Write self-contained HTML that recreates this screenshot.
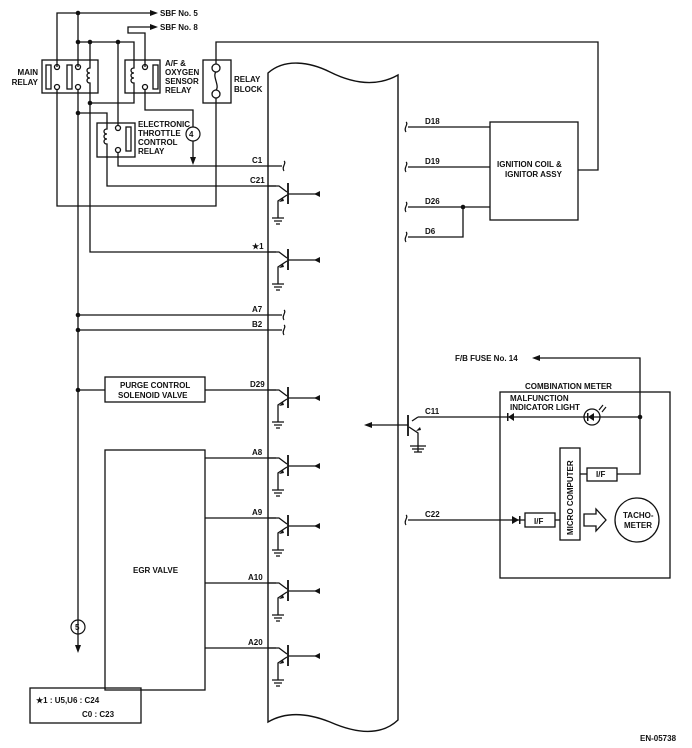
<!DOCTYPE html>
<html><head><meta charset="utf-8"><style>
html,body{margin:0;padding:0;background:#fff}
svg{display:block}
text{font-family:"Liberation Sans",sans-serif;font-weight:bold;font-size:8px;fill:#111}
</style></head><body>
<svg width="692" height="748" viewBox="0 0 692 748" xmlns="http://www.w3.org/2000/svg">
<defs>
<g id="tr">
<path d="M-14 0 H-3 L5 6" fill="none" stroke="#111" stroke-width="1.3"/>
<line x1="6" y1="-3" x2="6" y2="18" stroke="#111" stroke-width="1.8"/>
<path d="M5 9 L-4 15 V32" fill="none" stroke="#111" stroke-width="1.3"/>
<path d="M1 12 L-3 16 L2 15Z" fill="#111"/>
<line x1="6" y1="8" x2="38" y2="8" stroke="#111" stroke-width="1.3"/>
<path d="M32 5 L38 8 L32 11Z" fill="#111" transform="rotate(180 35 8)"/>
<path d="M-10 32 H2 M-8 35 H0 M-6 38 H-2" stroke="#111" stroke-width="1.2"/>
</g>
<g id="sq"><path d="M0 -5 C3 -3 -3 1 0 5" fill="none" stroke="#111" stroke-width="1.2"/></g>
</defs>
<g fill="none" stroke="#111" stroke-width="1.3">
<!-- ECM outline -->
<path d="M268 73 C285 58 310 62 330 72 C350 82 375 88 398 75 V720 C380 737 355 733 330 722 C305 712 285 712 268 722 Z" stroke-width="1.4"/>
<!-- top supplies -->
<path d="M57 67 V13 H150"/><path d="M78 13 V67"/>
<path d="M145 67 V33 H128 V27 H150"/>
<path d="M78 42 H134 V63"/><path d="M90 42 V63"/><path d="M118 42 V125"/>
<!-- main relay -->
<rect x="42" y="60" width="56" height="33"/>
<rect x="46" y="65" width="5" height="24"/><rect x="67" y="65" width="5" height="24"/>
<circle cx="57" cy="67" r="2.5"/><circle cx="78" cy="67" r="2.5"/><circle cx="57" cy="87" r="2.5"/><circle cx="78" cy="87" r="2.5"/>
<path d="M90 63 V68 c-4 0 -4 5 0 5 c-4 0 -4 5 0 5 c-4 0 -4 5 0 5 V103"/>
<!-- AF relay -->
<rect x="125" y="60" width="35" height="33"/><rect x="153" y="65" width="5" height="24"/>
<circle cx="145" cy="67" r="2.5"/><circle cx="145" cy="87" r="2.5"/>
<path d="M134 63 V68 c-4 0 -4 5 0 5 c-4 0 -4 5 0 5 c-4 0 -4 5 0 5 V103 H90"/>
<path d="M90 103 V252 H276"/>
<path d="M145 90 V110 H193 V127"/><path d="M193 141 V158"/>
<!-- relay block -->
<rect x="203" y="60" width="28" height="43"/>
<circle cx="216" cy="68" r="4"/><circle cx="216" cy="94" r="4"/>
<path d="M216 72 c-4 4 4 14 0 18"/>
<path d="M216 64 V42 H598 V170 H578"/>
<path d="M216 98 V206 H57 V90"/>
<!-- ETC relay -->
<path d="M78 90 V645"/>
<path d="M78 113 H107 V125"/>
<rect x="97" y="123" width="38" height="34"/><rect x="126" y="127" width="5" height="24"/>
<circle cx="118" cy="128" r="2.5"/><circle cx="118" cy="150" r="2.5"/>
<path d="M107 125 V129 c-4 0 -4 5 0 5 c-4 0 -4 5 0 5 c-4 0 -4 5 0 5 V186 H276"/>
<path d="M118 153 V166 H282"/>
<!-- A7 B2 -->
<path d="M78 315 H282"/><path d="M78 330 H282"/>
<!-- purge -->
<rect x="105" y="377" width="100" height="25"/><path d="M78 390 H105"/><path d="M205 390 H276"/>
<!-- EGR -->
<rect x="105" y="450" width="100" height="240"/>
<path d="M205 458 H276 M205 518 H276 M205 583 H276 M205 648 H276"/>
<!-- right side -->
<path d="M408 127 H490 M408 167 H490 M408 207 H490 M408 237 H463 V207"/>
<rect x="490" y="122" width="88" height="98"/>
<!-- combination meter -->
<path d="M640 417 V358 H540"/>
<rect x="500" y="392" width="170" height="186"/>
<path d="M418 417 H640"/>
<circle cx="592" cy="417" r="8"/>
<path d="M617 474 H640 V417"/>
<rect x="587" y="468" width="30" height="13"/>
<rect x="560" y="448" width="20" height="92"/>
<path d="M580 474 H587"/>
<path d="M408 520 H525"/><rect x="525" y="513" width="30" height="14"/><path d="M555 520 H560"/>
<path d="M584 514 H596 V509 L606 520 L596 531 V526 H584Z"/>
<circle cx="637" cy="520" r="22"/>
<!-- C11 transistor -->
<path d="M418 417 L412 421"/>
<line x1="408" y1="415" x2="408" y2="436" stroke-width="1.8"/>
<path d="M409 427 L418 433 V452"/>
<path d="M408 425 H372"/>
<path d="M410 446 H426 M412 449 H424 M414 452 H422"/>
<!-- notes box -->
<rect x="30" y="688" width="111" height="35"/>
</g>
<g fill="#111">
<circle cx="78" cy="13" r="2.3"/><circle cx="78" cy="42" r="2.3"/><circle cx="90" cy="42" r="2.3"/><circle cx="118" cy="42" r="2.3"/>
<circle cx="90" cy="103" r="2.3"/><circle cx="78" cy="113" r="2.3"/><circle cx="78" cy="315" r="2.3"/><circle cx="78" cy="330" r="2.3"/><circle cx="78" cy="390" r="2.3"/>
<circle cx="463" cy="207" r="2.3"/><circle cx="640" cy="417" r="2.3"/>
<path d="M150 10 L158 13 L150 16Z"/><path d="M150 24 L158 27 L150 30Z"/>
<path d="M190 157 L193 165 L196 157Z"/><path d="M75 645 L78 653 L81 645Z"/>
<path d="M540 355 L532 358 L540 361Z"/>
<path d="M372 422 L364 425 L372 428Z"/>
<path d="M420 427 L416 431 L421 430Z"/>
<path d="M508 413 V421 L514 417Z" transform="rotate(180 511 417)"/><rect x="507" y="413" width="1.5" height="8"/>
<path d="M588 413 V421 L594 417Z" transform="rotate(180 591 417)"/><rect x="587" y="413" width="1.5" height="8"/>
<path d="M512 516 V524 L519 520Z"/><rect x="519" y="516" width="1.5" height="8"/>
</g>
<g fill="none" stroke="#111" stroke-width="1.2">
<circle cx="193" cy="134" r="7"/><circle cx="78" cy="627" r="7"/>
<path d="M599 410 l4 -5 M602 412 l4 -5"/>
</g>
<use href="#tr" x="282" y="186"/><use href="#tr" x="282" y="252"/><use href="#tr" x="282" y="390"/>
<use href="#tr" x="282" y="458"/><use href="#tr" x="282" y="518"/><use href="#tr" x="282" y="583"/><use href="#tr" x="282" y="648"/>
<use href="#sq" x="284" y="166"/><use href="#sq" x="284" y="315"/><use href="#sq" x="284" y="330"/>
<use href="#sq" x="406" y="127"/><use href="#sq" x="406" y="167"/><use href="#sq" x="406" y="207"/><use href="#sq" x="406" y="237"/><use href="#sq" x="406" y="520"/>
<text x="160" y="16">SBF No. 5</text><text x="160" y="30">SBF No. 8</text>
<text x="38" y="75" text-anchor="end">MAIN</text><text x="38" y="85" text-anchor="end">RELAY</text>
<text x="165" y="66">A/F &amp;</text><text x="165" y="75">OXYGEN</text><text x="165" y="84">SENSOR</text><text x="165" y="93">RELAY</text>
<text x="234" y="82">RELAY</text><text x="234" y="92">BLOCK</text>
<text x="138" y="127">ELECTRONIC</text><text x="138" y="136">THROTTLE</text><text x="138" y="145">CONTROL</text><text x="138" y="154">RELAY</text>
<text x="189" y="137" font-size="9">4</text><text x="75" y="630" font-size="9">5</text>
<text x="252" y="163">C1</text><text x="250" y="183">C21</text><text x="252" y="249">★1</text>
<text x="252" y="312">A7</text><text x="252" y="327">B2</text><text x="250" y="387">D29</text>
<text x="252" y="455">A8</text><text x="252" y="515">A9</text><text x="248" y="580">A10</text><text x="248" y="645">A20</text>
<text x="120" y="388">PURGE CONTROL</text><text x="118" y="398">SOLENOID VALVE</text>
<text x="133" y="573">EGR VALVE</text>
<text x="425" y="124">D18</text><text x="425" y="164">D19</text><text x="425" y="204">D26</text><text x="425" y="234">D6</text>
<text x="497" y="167">IGNITION COIL &amp;</text><text x="505" y="177">IGNITOR ASSY</text>
<text x="455" y="361">F/B FUSE No. 14</text>
<text x="525" y="389">COMBINATION METER</text>
<text x="510" y="401">MALFUNCTION</text><text x="510" y="410">INDICATOR LIGHT</text>
<text x="425" y="414">C11</text><text x="425" y="517">C22</text>
<text x="596" y="477">I/F</text><text x="534" y="524">I/F</text>
<text x="573" y="535" transform="rotate(-90 573 535)">MICRO COMPUTER</text>
<text x="623" y="518">TACHO-</text><text x="624" y="528">METER</text>
<text x="36" y="703">★1 : U5,U6  : C24</text><text x="82" y="717">C0  : C23</text>
<text x="640" y="741">EN-05738</text>
</svg>
</body></html>
